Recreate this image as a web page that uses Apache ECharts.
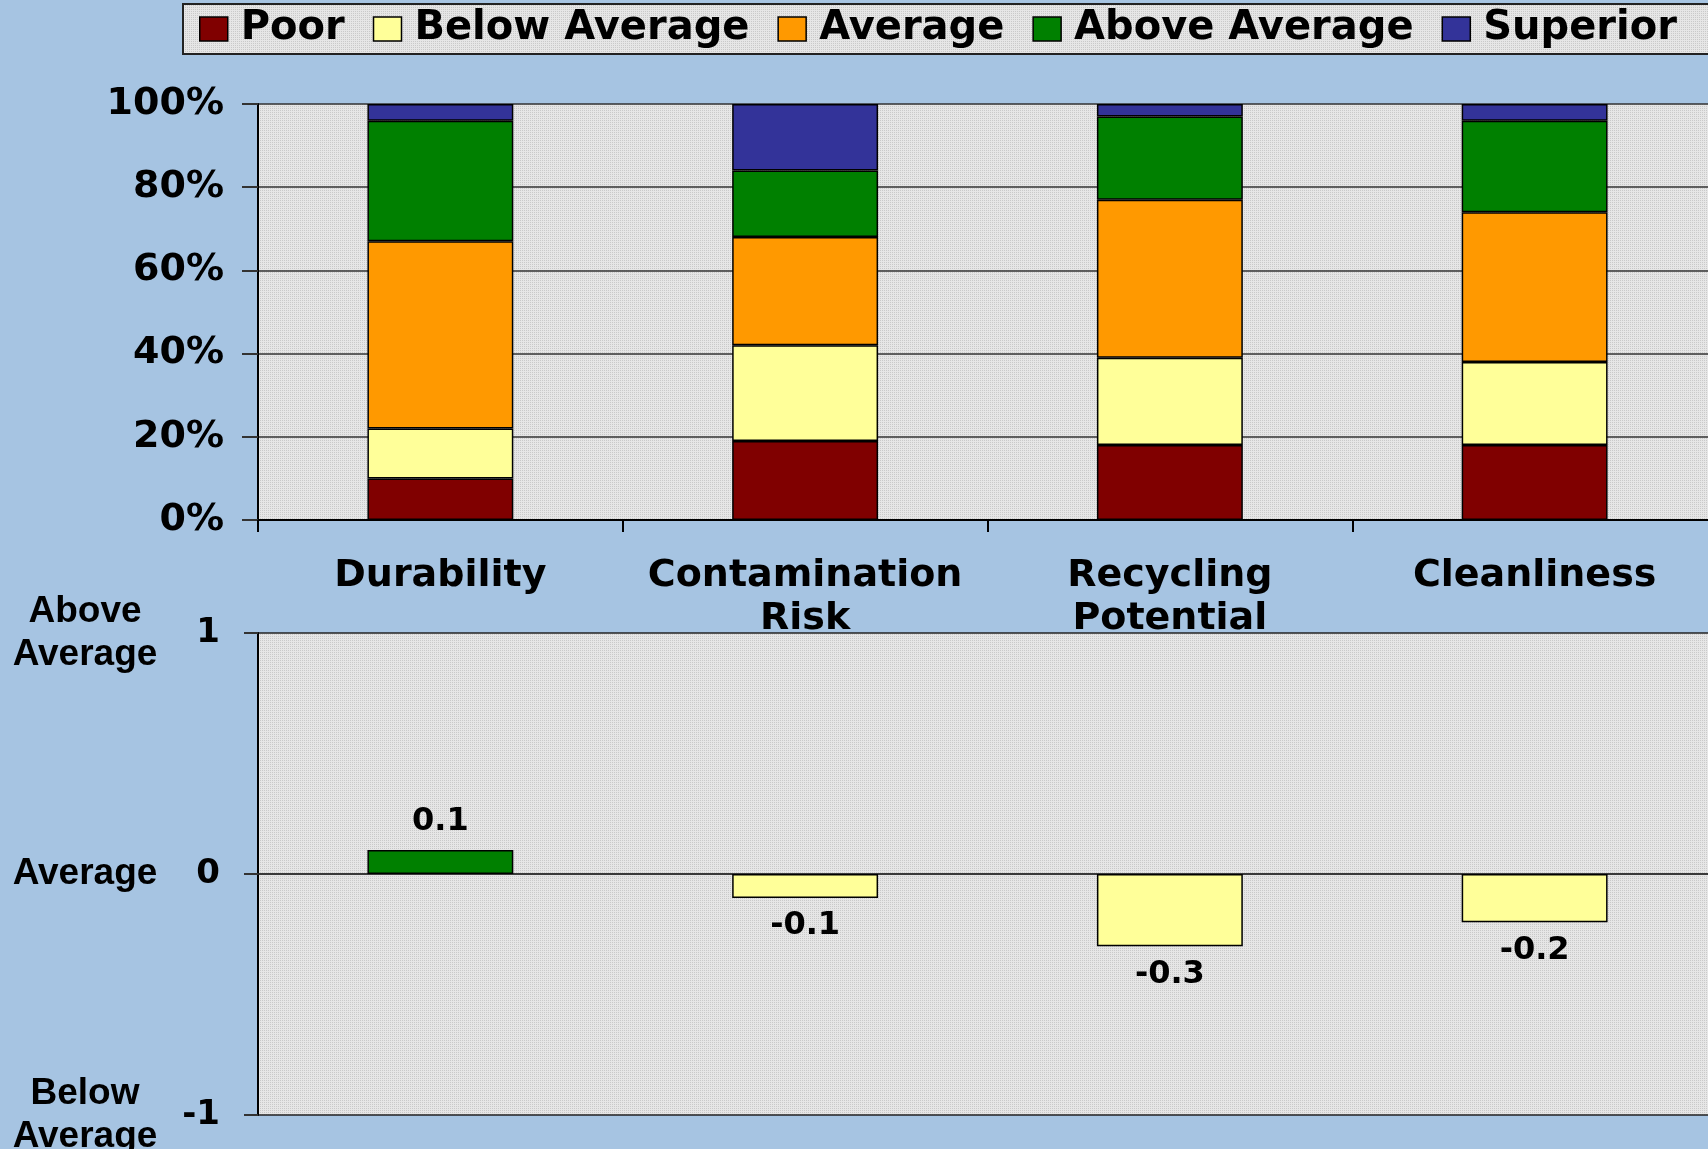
<!DOCTYPE html>
<html>
<head>
<meta charset="utf-8">
<title>Ratings</title>
<script src="https://cdn.jsdelivr.net/npm/echarts@6/dist/echarts.min.js"></script>
<style>
  html, body { margin: 0; padding: 0; background: #a6c4e2; }
  #chart { width: 1708px; height: 1149px; }
</style>
</head>
<body>
<div id="chart"></div>
<script>
// categories (x axis)
var categories = ['Durability', 'Contamination\nRisk', 'Recycling\nPotential', 'Cleanliness'];

// top chart: share of answers per rating, in %
var poor         = [10, 19, 18, 18];
var belowAverage = [12, 23, 21, 20];
var average      = [45, 26, 38, 36];
var aboveAverage = [29, 16, 20, 22];
var superior     = [4, 16, 3, 4];

// bottom chart: net score
var netScore = [0.1, -0.1, -0.3, -0.2];

// score axis tick names
var scoreTicks = [-1, 0, 1];
var scoreNames = ['Below\nAverage', 'Average', 'Above\nAverage'];

var ratingNames  = ['Poor', 'Below Average', 'Average', 'Above Average', 'Superior'];
var ratingColors = ['#800000', '#ffff99', '#ff9900', '#008000', '#333399'];

// dotted gray fill of the plot areas
var tile = document.createElement('canvas');
tile.width = 2; tile.height = 2;
var ctx = tile.getContext('2d');
ctx.fillStyle = '#e6e6e6'; ctx.fillRect(0, 0, 2, 2);
ctx.fillStyle = '#c9c9c9'; ctx.fillRect(0, 0, 1, 1);
var plotFill = {image: tile, repeat: 'repeat'};

var bold = {fontFamily: 'DejaVu Sans', fontWeight: 'bold', color: '#000'};

var stacks = [poor, belowAverage, average, aboveAverage, superior];
var series = stacks.map(function (d, i) {
  return {
    name: ratingNames[i],
    type: 'bar',
    stack: 'rating',
    xAxisIndex: 0,
    yAxisIndex: 0,
    barWidth: '40%',
    data: d,
    itemStyle: {color: ratingColors[i], borderColor: '#000', borderWidth: 1.5},
    emphasis: {disabled: true}
  };
});

// net score bars: green above zero, yellow below
series.push({
  type: 'bar',
  xAxisIndex: 1,
  yAxisIndex: 1,
  barWidth: '40%',
  data: netScore.map(function (v) {
    return {
      value: v,
      itemStyle: {color: v >= 0 ? '#008000' : '#ffff99'},
      label: {position: v >= 0 ? 'top' : 'bottom'}
    };
  }),
  itemStyle: {borderColor: '#000', borderWidth: 1.5},
  label: {
    show: true,
    distance: 12,
    fontFamily: 'DejaVu Sans',
    fontWeight: 'bold',
    fontSize: 32,
    color: '#000'
  },
  emphasis: {disabled: true}
});

var option = {
  backgroundColor: '#a6c4e2',
  animation: false,
  legend: {
    data: ratingNames,
    left: 183,
    top: 4,
    width: 1800,
    orient: 'horizontal',
    icon: 'rect',
    itemWidth: 28,
    itemHeight: 24,
    itemGap: 28,
    padding: [5, 60, 5, 16],
    backgroundColor: plotFill,
    borderColor: '#222',
    borderWidth: 2,
    itemStyle: {borderColor: '#000', borderWidth: 1.5},
    textStyle: Object.assign({fontSize: 40, padding: [0, 0, 0, 8]}, bold)
  },
  grid: [
    {left: 258, top: 104, width: 1459, height: 416, show: true, backgroundColor: plotFill,
      borderWidth: 0, outerBoundsMode: 'none'},
    {left: 258, top: 633, width: 1459, height: 482, show: true, backgroundColor: plotFill,
      borderWidth: 0, outerBoundsMode: 'none'}
  ],
  xAxis: [
    {
      type: 'category',
      gridIndex: 0,
      data: categories,
      axisLine: {lineStyle: {color: '#000', width: 2}},
      axisTick: {show: true, length: 12, lineStyle: {color: '#000', width: 2}},
      axisLabel: Object.assign({interval: 0, fontSize: 38, lineHeight: 43, margin: 35}, bold)
    },
    {
      type: 'category',
      gridIndex: 1,
      data: categories,
      axisLine: {onZero: true, lineStyle: {color: '#333', width: 1.5}},
      axisTick: {show: false},
      axisLabel: {show: false}
    }
  ],
  yAxis: [
    {
      type: 'value',
      gridIndex: 0,
      min: 0,
      max: 100,
      interval: 20,
      axisLine: {show: true, lineStyle: {color: '#000', width: 2}},
      axisTick: {show: true, length: 16, lineStyle: {color: '#333', width: 2}},
      splitLine: {lineStyle: {color: '#333', width: 1.5}},
      axisLabel: Object.assign({formatter: '{value}%', fontSize: 38, margin: 34}, bold)
    },
    {
      type: 'value',
      gridIndex: 1,
      position: 'left',
      min: -1,
      max: 1,
      interval: 1,
      axisLine: {show: true, lineStyle: {color: '#000', width: 2}},
      axisTick: {show: true, length: 14, lineStyle: {color: '#333', width: 2}},
      splitLine: {lineStyle: {color: '#222', width: 1.5}},
      axisLabel: Object.assign({fontSize: 34, margin: 38}, bold)
    },
    {
      type: 'value',
      gridIndex: 1,
      position: 'left',
      offset: 0,
      min: -1,
      max: 1,
      interval: 1,
      axisLine: {show: false},
      axisTick: {show: false},
      splitLine: {show: false},
      axisLabel: {
        margin: 173,
        align: 'center',
        fontFamily: 'Liberation Sans',
        fontWeight: 'bold',
        fontSize: 37,
        lineHeight: 43,
        color: '#000',
        textShadowColor: '#fff',
        textShadowOffsetX: 2,
        textShadowOffsetY: 2,
        textShadowBlur: 0,
        formatter: function (v) {
          var k = scoreTicks.indexOf(v);
          return k >= 0 ? scoreNames[k] : '';
        }
      }
    }
  ],
  series: series
};

var myChart = echarts.init(document.getElementById('chart'));
myChart.setOption(option);
</script>
</body>
</html>
